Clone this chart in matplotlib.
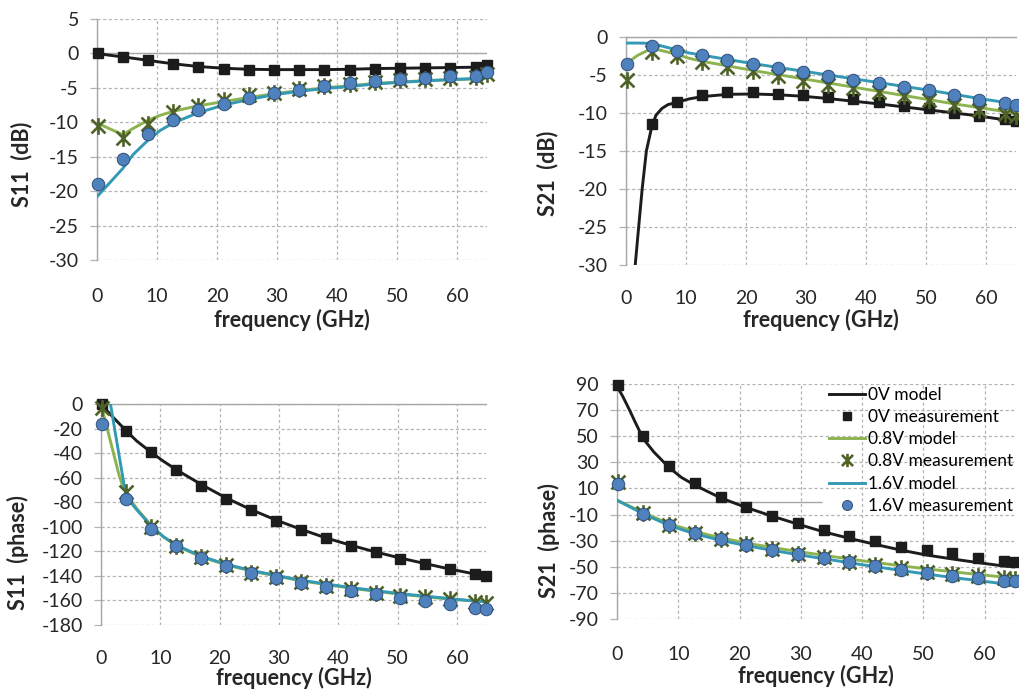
"""Recreate four-panel S-parameter model vs measurement chart."""

import matplotlib
matplotlib.use("Agg")
import matplotlib.pyplot as plt
from matplotlib.path import Path

plt.rcParams["font.family"] = ["Lato", "DejaVu Sans"]
plt.rcParams["axes.unicode_minus"] = False

# ---- data (GHz, dB, degrees) ----
FREQ_MEAS = [0.1, 4.3, 8.5, 12.7, 16.9, 21.1, 25.3, 29.5, 33.7, 37.9,
             42.1, 46.3, 50.5, 54.7, 58.9, 63.1, 65.0]
FREQ_MEAS_NO_DC = FREQ_MEAS[1:]

# S11 magnitude
s11db_0v_meas = [0, -0.5, -1.0, -1.5, -1.9, -2.2, -2.35, -2.4, -2.4, -2.4,
                 -2.35, -2.25, -2.15, -2.1, -2.05, -2.0, -1.7]
s11db_08v_meas = [-10.5, -12.3, -10.2, -8.5, -7.6, -6.8, -6.1, -5.7, -5.2, -4.8,
                  -4.4, -4.1, -3.9, -3.7, -3.5, -3.4, -3.0]
s11db_16v_meas = [-18.9, -15.4, -11.7, -9.7, -8.2, -7.3, -6.4, -5.8, -5.3, -4.8,
                  -4.35, -3.95, -3.7, -3.5, -3.3, -3.25, -2.75]
s11db_model_freq = [0, 2, 4.3, 6, 8.5, 10.5, 12.7, 16.9, 21.1, 25.3, 29.5, 33.7,
                    37.9, 42.1, 46.3, 50.5, 54.7, 58.9, 63.1, 65]
s11db_0v_model = [0, -0.25, -0.5, -0.7, -1.0, -1.25, -1.5, -1.9, -2.15, -2.3,
                  -2.35, -2.35, -2.35, -2.3, -2.2, -2.15, -2.1, -2.05, -2.0, -1.9]
s11db_08v_model = [-10.1, -10.9, -11.8, -10.9, -9.7, -9.0, -8.4, -7.6, -7.0, -6.4,
                   -5.85, -5.4, -5.0, -4.7, -4.35, -4.15, -3.95, -3.8, -3.7, -3.6]
s11db_16v_model = [-20.8, -18.9, -16.7, -14.7, -12.6, -11.2, -10.1, -8.6, -7.5, -6.7,
                   -6.0, -5.5, -5.1, -4.8, -4.45, -4.2, -4.0, -3.8, -3.65, -3.5]

# S21 magnitude
s21db_0v_meas = [-11.5, -8.6, -7.6, -7.3, -7.3, -7.45, -7.7, -7.9, -8.2, -8.6,
                 -9.05, -9.35, -9.95, -10.45, -10.8, -11.0]
s21db_08v_meas = [-5.6, -2.0, -2.55, -3.3, -3.95, -4.5, -5.2, -5.8, -6.3, -6.75,
                  -7.3, -7.8, -8.35, -8.95, -9.6, -10.2, -10.45]
s21db_16v_meas = [-3.5, -1.25, -1.8, -2.4, -3.0, -3.55, -4.1, -4.6, -5.1, -5.6,
                  -6.05, -6.6, -7.0, -7.7, -8.25, -8.7, -8.9]
s21db_0v_model_freq = [1.2, 2.0, 2.7, 3.4, 4.3, 5.0, 6.0, 7.0, 8.5, 10.5, 12.7, 16.9,
                       21.1, 25.3, 29.5, 33.7, 37.9, 42.1, 46.3, 50.5, 54.7, 58.9,
                       63.1, 65]
s21db_0v_model = [-33, -26, -20, -15, -11.8, -10.3, -9.4, -8.9, -8.6, -8.15, -7.85,
                  -7.55, -7.5, -7.6, -7.8, -8.1, -8.45, -8.8, -9.2, -9.6, -10.0,
                  -10.4, -10.9, -11.1]
s21db_model_freq = [0, 2, 4.3, 6, 8.5, 10.5, 12.7, 16.9, 21.1, 25.3, 29.5, 33.7,
                    37.9, 42.1, 46.3, 50.5, 54.7, 58.9, 63.1, 65]
s21db_08v_model = [-3.5, -2.4, -1.5, -1.8, -2.3, -2.8, -3.2, -3.8, -4.4, -4.95,
                   -5.5, -6.05, -6.6, -7.15, -7.7, -8.25, -8.8, -9.3, -9.8, -10.1]
s21db_16v_model = [-0.8, -0.8, -0.85, -1.2, -1.7, -2.1, -2.4, -2.95, -3.5, -4.0,
                   -4.5, -5.0, -5.5, -6.0, -6.5, -7.0, -7.55, -8.1, -8.6, -8.95]

# S11 phase
s11ph_0v_meas = [0, -22, -38.8, -53.7, -66.8, -77.3, -86.3, -95, -102.6, -108.8,
                 -115.3, -120.5, -126, -130.3, -134.6, -138.7, -140]
s11ph_08v_meas = [-3, -71.4, -100, -115.3, -125, -131.3, -137.3, -141, -145, -148,
                  -151, -154, -156, -157.4, -159, -161, -162]
s11ph_16v_meas = [-16, -77, -101.8, -115.6, -125.4, -132, -137.3, -141.7, -145.5,
                  -148.7, -152, -155, -158.2, -160.4, -163, -165.8, -167]
s11ph_0v_model_freq = [0, 2, 4.3, 6, 8.5, 10.5, 12.7, 16.9, 21.1, 25.3, 29.5, 33.7,
                       37.9, 42.1, 46.3, 50.5, 54.7, 58.9, 63.1, 65]
s11ph_0v_model = [0, -10.6, -22, -30, -39.5, -46.5, -53.5, -65.5, -76.5, -86, -94.5,
                  -102, -109, -115, -120.5, -125.5, -130, -134.5, -138.5, -140.5]
s11ph_08v_model_freq = [0, 1, 2, 3, 3.6, 4.3, 5, 6, 8.5, 10.5, 12.7, 16.9, 21.1,
                        25.3, 29.5, 33.7, 37.9, 42.1, 46.3, 50.5, 54.7, 58.9, 63.1, 65]
s11ph_08v_model = [0, -19, -38, -57, -66, -72, -78, -85, -99, -108, -115.5, -124.5,
                   -131, -136, -140, -144, -147, -150, -152.5, -155, -157, -159,
                   -160.5, -161]
s11ph_16v_model_freq = [1.6, 2.5, 3.2, 3.9, 4.3, 5, 6, 8.5, 10.5, 12.7, 16.9, 21.1,
                        25.3, 29.5, 33.7, 37.9, 42.1, 46.3, 50.5, 54.7, 58.9, 63.1, 65]
s11ph_16v_model = [0, -26, -46, -66, -75, -80, -86, -99.5, -108, -115, -124, -130.5,
                   -135.5, -139.5, -143.5, -146.5, -149.5, -152, -154.5, -156.5,
                   -158.5, -160.5, -161]

# S21 phase
s21ph_0v_meas = [89, 50, 27.6, 14.2, 3.8, -4.1, -11, -16.8, -21.9, -26.3, -30.4,
                 -34.5, -37.3, -39.8, -42.9, -45.4, -46.4]
s21ph_08v_meas = [15, -9, -17.9, -24.3, -28.8, -32.6, -36.4, -40, -42.7, -46, -48.8,
                  -51.3, -54, -55.4, -57.2, -58.7, -59.7]
s21ph_16v_meas = [13.7, -9.7, -18, -23.9, -29, -33.3, -37, -40, -43.4, -46.5, -49.5,
                  -52.4, -54.9, -56.7, -58.5, -61, -61]
s21ph_0v_model_freq = [0, 1, 2, 3, 4.3, 6, 8.5, 10.5, 12.7, 16.9, 21.1, 25.3, 29.5,
                       33.7, 37.9, 42.1, 46.3, 50.5, 54.7, 58.9, 63.1, 65]
s21ph_0v_model = [88.5, 80, 70.5, 60.5, 48, 38, 26, 18.5, 12.5, 2.8, -4.6, -11.2,
                  -17.3, -23.2, -28.2, -32.8, -37.2, -41, -44, -46.8, -49.4, -50.1]
s21ph_model_freq = [0, 4.3, 8.5, 12.7, 16.9, 21.1, 25.3, 29.5, 33.7, 37.9, 42.1,
                    46.3, 50.5, 54.7, 58.9, 63.1, 65]
s21ph_08v_model = [1, -8.5, -17, -23, -27.8, -31.8, -35.2, -38.3, -41.2, -44, -46.7,
                   -49.2, -51.6, -53.8, -55.9, -57.9, -58.8]
s21ph_16v_model = [1, -9.5, -18.3, -24.8, -29.7, -33.8, -37.4, -40.7, -43.8, -46.9,
                   -49.9, -52.8, -55.6, -58.2, -60.6, -63, -64.3]

# ---- style ----
BLACK = "#1c1c1c"
GREEN_LINE = "#8db350"
GREEN_MARK = "#4f6228"
TEAL_LINE = "#3399b5"
BLUE_FILL = "#4f81bd"
BLUE_EDGE = "#2f4f7a"
GRID_GRAY = "#b4b4b4"
AXIS_GRAY = "#a6a6a6"
TEXT = "#262626"

# Excel-style "star" marker: an X with a vertical bar
STAR = Path([(-1, -1), (1, 1), (-1, 1), (1, -1), (0, -1.2), (0, 1.2)],
            [Path.MOVETO, Path.LINETO, Path.MOVETO, Path.LINETO, Path.MOVETO, Path.LINETO])


def style_axes(ax, ylim, yticks, ylabel, ylabel_x, ylabel_y, xlabel_y, xpad):
    ax.set_xlim(0, 65)
    ax.set_ylim(*ylim)
    ax.set_xticks(range(0, 61, 10))
    ax.set_yticks(yticks)
    for side in ("top", "right", "bottom"):
        ax.spines[side].set_visible(False)
    ax.spines["left"].set_color(AXIS_GRAY)
    ax.spines["left"].set_linewidth(1.0)
    ax.grid(True, color=GRID_GRAY, linestyle=(0, (2.5, 2)), linewidth=0.9)
    ax.set_axisbelow(True)
    ax.tick_params(axis="y", length=5, width=0.9, color=GRID_GRAY, pad=8,
                   labelsize=14, labelcolor=TEXT)
    ax.tick_params(axis="x", length=0, pad=xpad, labelsize=14, labelcolor=TEXT)
    ax.set_ylabel(ylabel, fontsize=15.5, fontweight="bold", color=TEXT)
    ax.yaxis.set_label_coords(ylabel_x, ylabel_y)
    ax.set_xlabel("frequency (GHz)", fontsize=15.5, fontweight="bold", color=TEXT)
    ax.xaxis.set_label_coords(0.5, xlabel_y)


def draw_series(ax, meas_sets, model_sets):
    colors = [BLACK, GREEN_LINE, TEAL_LINE]
    labels = ["0V", "0.8V", "1.6V"]
    handles = []
    for (mf, mv), color, lab in zip(model_sets, colors, labels):
        (h,) = ax.plot(mf, mv, color=color, lw=2.1, zorder=3, label=f"{lab} model")
        handles.append(h)
    (f0, v0), (f1, v1), (f2, v2) = meas_sets
    (sq,) = ax.plot(f0, v0, ls="none", marker="s", ms=7.5, color=BLACK, zorder=4,
                    clip_on=False, label="0V measurement")
    (st,) = ax.plot(f1, v1, ls="none", marker=STAR, ms=12, mew=1.9, color=GREEN_MARK,
                    zorder=5, clip_on=False, label="0.8V measurement")
    (ci,) = ax.plot(f2, v2, ls="none", marker="o", ms=9, mfc=BLUE_FILL, mec=BLUE_EDGE,
                    mew=0.7, zorder=6, clip_on=False, label="1.6V measurement")
    return [handles[0], sq, handles[1], st, handles[2], ci]


fig = plt.figure(figsize=(10.19, 6.91), dpi=100)

# S11 (dB)
ax1 = fig.add_axes([0.0952, 0.6237, 0.3827, 0.3488])
draw_series(
    ax1,
    [(FREQ_MEAS, s11db_0v_meas), (FREQ_MEAS, s11db_08v_meas), (FREQ_MEAS, s11db_16v_meas)],
    [(s11db_model_freq, s11db_0v_model), (s11db_model_freq, s11db_08v_model),
     (s11db_model_freq, s11db_16v_model)],
)
ax1.axhline(0, color=AXIS_GRAY, lw=1.0, zorder=1.5)
style_axes(ax1, (-30, 5), range(-30, 6, 5), "S11  (dB)", -0.167, 0.398, -0.203, 20)

# S21 (dB)
ax2 = fig.add_axes([0.6143, 0.6165, 0.3827, 0.330])
draw_series(
    ax2,
    [(FREQ_MEAS_NO_DC, s21db_0v_meas), (FREQ_MEAS, s21db_08v_meas), (FREQ_MEAS, s21db_16v_meas)],
    [(s21db_0v_model_freq, s21db_0v_model), (s21db_model_freq, s21db_08v_model),
     (s21db_model_freq, s21db_16v_model)],
)
ax2.axhline(0, color=AXIS_GRAY, lw=1.0, zorder=1.5, clip_on=False)
style_axes(ax2, (-30, 0), range(-30, 1, 5), "S21  (dB)", -0.174, 0.40, -0.193, 18)

# S11 (phase)
ax3 = fig.add_axes([0.0991, 0.0955, 0.3783, 0.3198])
draw_series(
    ax3,
    [(FREQ_MEAS, s11ph_0v_meas), (FREQ_MEAS, s11ph_08v_meas), (FREQ_MEAS, s11ph_16v_meas)],
    [(s11ph_0v_model_freq, s11ph_0v_model), (s11ph_08v_model_freq, s11ph_08v_model),
     (s11ph_16v_model_freq, s11ph_16v_model)],
)
ax3.axhline(0, color=AXIS_GRAY, lw=1.0, zorder=1.5, clip_on=False)
style_axes(ax3, (-180, 0), range(-180, 1, 20), "S11  (phase)", -0.187, 0.328, -0.19, 18)

# S21 (phase)
ax4 = fig.add_axes([0.6055, 0.1042, 0.391, 0.340])
handles = draw_series(
    ax4,
    [(FREQ_MEAS, s21ph_0v_meas), (FREQ_MEAS, s21ph_08v_meas), (FREQ_MEAS, s21ph_16v_meas)],
    [(s21ph_0v_model_freq, s21ph_0v_model), (s21ph_model_freq, s21ph_08v_model),
     (s21ph_model_freq, s21ph_16v_model)],
)
ax4.hlines(0, 0, 33.5, color=AXIS_GRAY, lw=1.0, zorder=1.5)
style_axes(ax4, (-90, 90), range(-90, 91, 20), "S21  (phase)", -0.143, 0.332, -0.196, 19.5)
leg = ax4.legend(handles=handles, loc="upper right", bbox_to_anchor=(1.0, 1.0),
                 frameon=False, fontsize=12.5, handlelength=2.1, handletextpad=0.15,
                 labelspacing=0.36, borderaxespad=0.0, borderpad=0.15, markerscale=0.8)

fig.savefig("out.png", dpi=100)
